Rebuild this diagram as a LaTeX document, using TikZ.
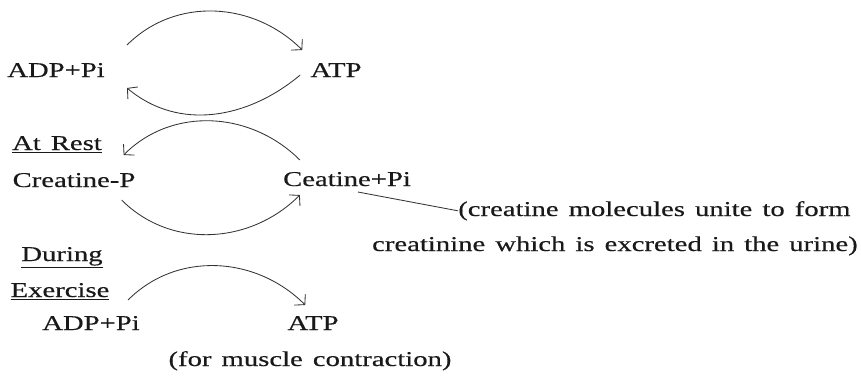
\documentclass[tikz,border=0pt]{standalone}
\usepackage{fontspec}
\setmainfont{Liberation Serif}[FakeStretch=1.36,WordSpace=1.4,FakeBold=0.4]
\usetikzlibrary{arrows.meta,positioning}

\begin{document}
\begin{tikzpicture}[x=0.025cm, y=0.025cm,
  lbl/.style={inner sep=0pt, anchor=base, text=black!90, font=\fontsize{15}{18}\selectfont},
  cyc/.style={draw=black!80, line width=0.6pt, -{Straight Barb[length=5pt, width=11pt]}},
  lead/.style={draw=black!80, line width=0.6pt}]
\useasboundingbox (0,0) rectangle (861,-376);

% top cycle
\node[lbl] (adpA) at (56,-77) {ADP+Pi};
\node[lbl] (atpA) at (336,-77) {ATP};

% creatine phosphate
\node[lbl] (rest) at (57,-150) {\underline{At Rest}};
\node[lbl] (crp) at (74,-187) {Creatine-P};
\node[lbl] (crpi) at (347,-186) {Ceatine+Pi};
\node[lbl, anchor=base west] (note1) at (458,-216) {(creatine molecules unite to form};
\node[lbl, anchor=base east] (note2) at (858,-251) {creatinine which is excreted in the urine)};

% exercise
\node[lbl] (during) at (62,-261) {\underline{During}};
\node[lbl] (exercise) at (60,-297) {\underline{Exercise}};
\node[lbl] (adpB) at (91,-330) {ADP+Pi};
\node[lbl] (atpB) at (313,-330) {ATP};
\node[lbl] (muscle) at (310,-366) {(for muscle contraction)};

\draw[cyc] ([shift={(22,32)}]adpA.base east) to[out=45, in=135] ([shift={(-8,27)}]atpA.base west);
\draw[cyc] ([shift={(-10,2)}]atpA.base west) to[out=220, in=-40] ([shift={(22,-11)}]adpA.base east);

\draw[cyc] ([shift={(17,26)}]crpi.base west) to[out=135, in=45] ([shift={(-12,32)}]crp.base east);
\draw[cyc] ([shift={(-14,-13)}]crp.base east) to[out=-45, in=-135] ([shift={(17,-9)}]crpi.base west);
\draw[lead] ([shift={(75,-6)}]crpi.base west) -- (note1.west);

\draw[cyc] ([shift={(-12,30)}]adpB.base east) to[out=45, in=135] ([shift={(18,25)}]atpB.base west);

\end{tikzpicture}
\end{document}
